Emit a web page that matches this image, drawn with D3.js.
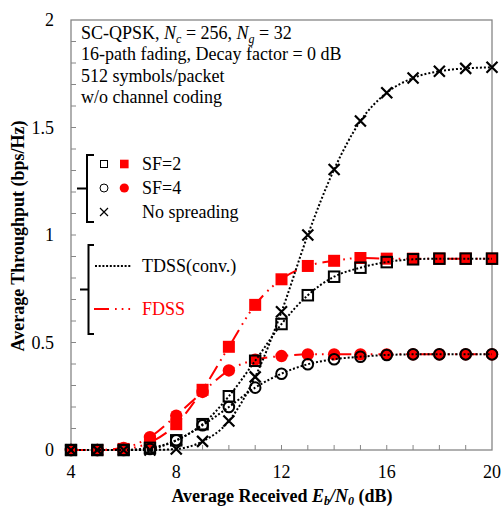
<!DOCTYPE html>
<html><head><meta charset="utf-8">
<script src="https://cdn.jsdelivr.net/npm/d3@7"></script>
<style>
body{margin:0;background:#fff;}
svg text{font-family:'Liberation Serif','Times New Roman',Times,serif;}
</style></head>
<body><svg id="c" width="501" height="507" font-family="Liberation Serif, Times New Roman, serif"></svg>
<script>
const snr = [4,5,6,7,8,9,10,11,12,13,14,15,16,17,18,19,20];
const tdssSF2 = [0,0,0,0.01,0.045,0.12,0.25,0.415,0.586,0.72,0.806,0.848,0.874,0.887,0.89,0.89,0.89];
const tdssSF4 = [0,0,0,0.005,0.045,0.115,0.2,0.29,0.355,0.399,0.422,0.434,0.442,0.445,0.445,0.445,0.445];
const tdssNoSp = [0,0,0,0,0.005,0.04,0.135,0.34,0.643,1.0,1.305,1.53,1.662,1.73,1.762,1.775,1.78];
const fdssSF2 = [0,0,0.005,0.035,0.12,0.28,0.48,0.675,0.794,0.856,0.88,0.893,0.89,0.89,0.89,0.89,0.89];
const fdssSF4 = [0,0,0.01,0.06,0.16,0.27,0.37,0.42,0.437,0.445,0.445,0.445,0.445,0.445,0.445,0.445,0.445];
const xTicks = [4,8,12,16,20];
const yTicks = [0,0.5,1,1.5,2];
const infoLines = ["SC-QPSK", "16-path fading, Decay factor = 0 dB", "512 symbols/packet", "w/o channel coding"];
const legendLabels = ["SF=2","SF=4","No spreading","TDSS(conv.)","FDSS"];

const svg = d3.select("#c");
const L=71,R=492,T=20,B=450;
const x = d3.scaleLinear().domain([4,20]).range([L,R]);
const y = d3.scaleLinear().domain([0,2]).range([B,T]);
const gray="#868686", red="#ff0000";
const DOT="2,2", DASHDOT="15,6,1.7,5,1.7,5,1.7,6";

svg.append("rect").attr("x",L).attr("y",T).attr("width",R-L).attr("height",B-T)
  .attr("fill","none").attr("stroke",gray).attr("stroke-width",1.3);
const yMinor = d3.range(1,20).map(i=>i/10);
svg.append("g").selectAll("line").data(yMinor).join("line")
  .attr("x1",L).attr("x2",L+5).attr("y1",d=>y(d)).attr("y2",d=>y(d)).attr("stroke",gray).attr("stroke-width",1);
svg.append("g").selectAll("line").data(d3.range(5,20)).join("line")
  .attr("x1",d=>x(d)).attr("x2",d=>x(d)).attr("y1",B).attr("y2",B-5).attr("stroke",gray).attr("stroke-width",1);
svg.append("g").selectAll("text").data(yTicks).join("text")
  .attr("x",54).attr("y",d=>y(d)).attr("dy","0.35em").attr("text-anchor","end")
  .attr("font-size",18).text(d=>d);
svg.append("g").selectAll("text").data(xTicks).join("text")
  .attr("x",d=>x(d)).attr("y",478).attr("text-anchor","middle")
  .attr("font-size",18).text(d=>d);

svg.append("text").attr("transform","translate(24,236) rotate(-90)")
  .attr("text-anchor","middle").attr("font-size",18).attr("font-weight","bold")
  .text("Average Throughput (bps/Hz)");
const xt = svg.append("text").attr("x",282).attr("y",502).attr("text-anchor","middle")
  .attr("font-size",18).attr("font-weight","bold");
xt.append("tspan").text("Average Received ");
xt.append("tspan").attr("font-style","italic").text("E");
xt.append("tspan").attr("font-style","italic").attr("font-size",12).attr("dy",3).text("b");
xt.append("tspan").attr("font-style","italic").attr("dy",-3).text("/N");
xt.append("tspan").attr("font-style","italic").attr("font-size",12).attr("dy",3).text("0");
xt.append("tspan").attr("dy",-3).text(" (dB)");

const infoY=[39,60,82,103];
const t1 = svg.append("text").attr("x",81).attr("y",infoY[0]).attr("font-size",18);
t1.append("tspan").text(infoLines[0]+", ");
t1.append("tspan").attr("font-style","italic").text("N");
t1.append("tspan").attr("font-style","italic").attr("font-size",12).attr("dy",4).text("c");
t1.append("tspan").attr("dy",-4).text(" = 256, ");
t1.append("tspan").attr("font-style","italic").text("N");
t1.append("tspan").attr("font-style","italic").attr("font-size",12).attr("dy",4).text("g");
t1.append("tspan").attr("dy",-4).text(" = 32");
for(let i=1;i<4;i++) svg.append("text").attr("x",81).attr("y",infoY[i]).attr("font-size",18).text(infoLines[i]);

const line = arr => d3.line().x((d,i)=>x(snr[i])).y(d=>y(d)).curve(d3.curveMonotoneX)(arr);
const sq = (g,arr,s,fill,stroke)=>g.selectAll(null).data(arr).join("rect")
  .attr("x",(d,i)=>x(snr[i])-s/2).attr("y",d=>y(d)-s/2).attr("width",s).attr("height",s)
  .attr("fill",fill).attr("stroke",stroke).attr("stroke-width",stroke==="none"?0:2);
const ci = (g,arr,r,fill,stroke)=>g.selectAll(null).data(arr).join("circle")
  .attr("cx",(d,i)=>x(snr[i])).attr("cy",d=>y(d)).attr("r",r)
  .attr("fill",fill).attr("stroke",stroke).attr("stroke-width",stroke==="none"?0:2);
const cross = (g,arr,s)=>g.selectAll(null).data(arr).join("path")
  .attr("d",(d,i)=>{const cx=x(snr[i]),cy=y(d);return `M${cx-s},${cy-s}L${cx+s},${cy+s}M${cx-s},${cy+s}L${cx+s},${cy-s}`;})
  .attr("stroke","#000").attr("stroke-width",2.2).attr("fill","none");

const gR = svg.append("g");
[fdssSF2,fdssSF4].forEach(a=>gR.append("path").attr("d",line(a)).attr("fill","none")
  .attr("stroke",red).attr("stroke-width",2).attr("stroke-dasharray",DASHDOT));
sq(gR.append("g"),fdssSF2,12,red,"none");
ci(gR.append("g"),fdssSF4,6.2,red,"none");
const gB = svg.append("g");
[tdssSF2,tdssSF4,tdssNoSp].forEach(a=>gB.append("path").attr("d",line(a)).attr("fill","none")
  .attr("stroke","#000").attr("stroke-width",2).attr("stroke-dasharray",DOT));
sq(gB.append("g"),tdssSF2,10.5,"none","#000");
ci(gB.append("g"),tdssSF4,5.3,"none","#000");
cross(gB.append("g"),tdssNoSp,5.5);

const lg = svg.append("g");
const br = (x0,xs,y0,y1,xm)=>{const ym=(y0+y1)/2;
  lg.append("path").attr("d",`M${xs},${y0}H${x0}V${y1}H${xs}M${x0},${ym}H${xm}`)
   .attr("fill","none").attr("stroke","#000").attr("stroke-width",2);};
br(87,94,155,222,77);
br(88.5,94,245,334,80);
const rows=[164,188,212];
lg.append("rect").attr("x",100.5).attr("y",rows[0]-3.5).attr("width",7).attr("height",7).attr("fill","none").attr("stroke","#000").attr("stroke-width",1);
lg.append("rect").attr("x",120).attr("y",rows[0]-4.3).attr("width",8.6).attr("height",8.6).attr("fill",red);
lg.append("circle").attr("cx",104).attr("cy",rows[1]).attr("r",4).attr("fill","none").attr("stroke","#000").attr("stroke-width",1);
lg.append("circle").attr("cx",124.3).attr("cy",rows[1]).attr("r",4.6).attr("fill",red);
lg.append("path").attr("d",`M100,${rows[2]-4}L108,${rows[2]+4}M100,${rows[2]+4}L108,${rows[2]-4}`).attr("stroke","#000").attr("stroke-width",1.2);
[0,1,2].forEach(i=>lg.append("text").attr("x",142).attr("y",rows[i]).attr("dy","0.35em").attr("font-size",18).text(legendLabels[i]));
lg.append("line").attr("x1",95).attr("x2",132).attr("y1",266).attr("y2",266).attr("stroke","#000").attr("stroke-width",2).attr("stroke-dasharray","2,1.7");
lg.append("text").attr("x",142).attr("y",266).attr("dy","0.35em").attr("font-size",18).text(legendLabels[3]);
lg.append("line").attr("x1",94).attr("x2",132).attr("y1",309).attr("y2",309).attr("stroke",red).attr("stroke-width",2).attr("stroke-dasharray",DASHDOT);
lg.append("text").attr("x",142).attr("y",309).attr("dy","0.35em").attr("font-size",18).attr("fill",red).text(legendLabels[4]);
</script></body></html>
